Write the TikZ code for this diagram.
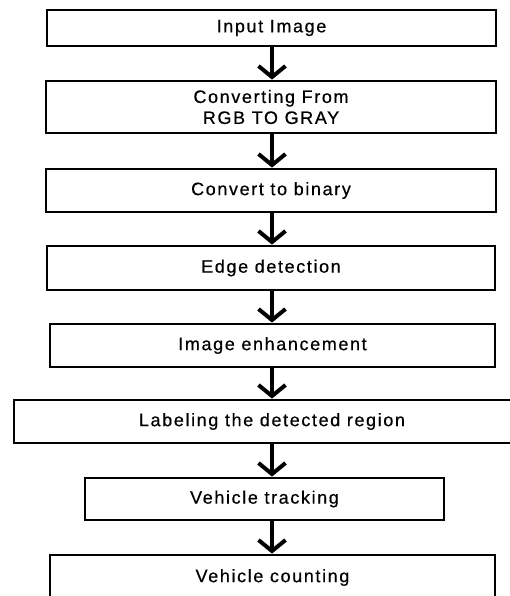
\documentclass[tikz,border=0pt]{standalone}
\usepackage{fontspec}
\setmainfont{Liberation Sans}[LetterSpace=9,FakeBold=0.5]
\usetikzlibrary{arrows.meta}
\begin{document}
\begin{tikzpicture}[x=1pt,y=-1pt,
  box/.style={draw=black, line width=2.8pt, fill=white, inner sep=0pt, align=center,
    font=\fontsize{18}{21}\selectfont},
  arr/.style={line width=4pt, -{Straight Barb[length=11pt,width=27pt]}}]
\useasboundingbox[fill=white] (0,0) rectangle (509,596);
\coordinate (ax) at (272,0);
\node[box, minimum width=449pt, minimum height=36pt] (b1) at (271.5,28) {Input Image};
\node[box, minimum width=450pt, minimum height=52pt] (b2) at (271,107) {Converting From\\RGB TO GRAY};
\node[box, minimum width=450pt, minimum height=43pt] (b3) at (271,190.5) {Convert to binary};
\node[box, minimum width=448pt, minimum height=44pt] (b4) at (271,268) {Edge detection};
\node[box, minimum width=445pt, minimum height=43pt] (b5) at (272.5,345.5) {Image enhancement};
\node[box, minimum width=516pt, minimum height=43pt] (b6) at (272,421.5) {Labeling the detected region};
\node[box, minimum width=359pt, minimum height=42pt] (b7) at (264.5,499) {Vehicle tracking};
\node[box, minimum width=445pt, minimum height=45pt] (b8) at (272.5,577.5) {Vehicle counting};
\foreach \a/\b in {b1/b2,b2/b3,b3/b4,b4/b5,b5/b6,b6/b7,b7/b8}
  \draw[arr] (\a.south -| ax) -- (\b.north -| ax);
\end{tikzpicture}
\end{document}
